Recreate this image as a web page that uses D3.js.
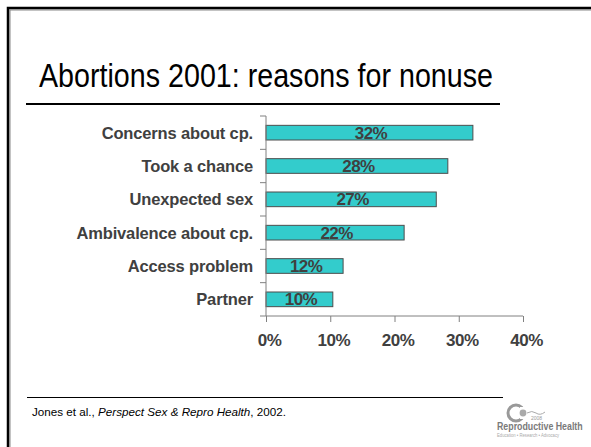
<!DOCTYPE html>
<html>
<head>
<meta charset="utf-8">
<script src="https://cdn.jsdelivr.net/npm/d3@7"></script>
<style>
  html, body { margin: 0; padding: 0; background: #fff; }
  svg { display: block; }
  text { font-family: "Liberation Sans", Arial, sans-serif; }
</style>
</head>
<body>
<svg id="chart" width="591" height="447"></svg>
<script>
// ---- data ----
const categories = ["Concerns about cp.", "Took a chance", "Unexpected sex",
                    "Ambivalence about cp.", "Access problem", "Partner"];
const values = [32.2, 28.3, 26.5, 21.5, 12.0, 10.4];
const valueLabels = ["32%", "28%", "27%", "22%", "12%", "10%"];
const xTicks = [0, 10, 20, 30, 40];
const titleText = "Abortions 2001: reasons for nonuse";

const svg = d3.select("#chart");
const textColor = "#404040";

// slide frame
svg.append("rect")
  .attr("x", 10).attr("y", 10).attr("width", 700).attr("height", 600)
  .attr("fill", "none").attr("stroke", "#888").attr("stroke-width", 1);
svg.append("rect")
  .attr("x", 8).attr("y", 8).attr("width", 700).attr("height", 600)
  .attr("fill", "none").attr("stroke", "#000").attr("stroke-width", 2.5);

// title
svg.append("text")
  .attr("x", 39).attr("y", 86.5)
  .attr("font-size", 33)
  .attr("fill", "#000")
  .attr("textLength", 454)
  .attr("lengthAdjust", "spacingAndGlyphs")
  .text(titleText);
svg.append("line")
  .attr("x1", 26).attr("x2", 500).attr("y1", 104).attr("y2", 104)
  .attr("stroke", "#000").attr("stroke-width", 2);

// scales
const x = d3.scaleLinear().domain([0, 40]).range([266, 523]);
const y = d3.scaleBand().domain(categories).range([116, 316])
  .paddingInner(0.56).paddingOuter(0.28);

// bars
const g = svg.append("g");
g.selectAll("rect.bar").data(values).join("rect")
  .attr("class", "bar")
  .attr("x", x(0))
  .attr("y", (d, i) => y(categories[i]))
  .attr("width", d => x(d) - x(0))
  .attr("height", y.bandwidth())
  .attr("fill", "#33CCCC")
  .attr("stroke", "#4d4d4d")
  .attr("stroke-width", 1);

// value labels
g.selectAll("text.val").data(values).join("text")
  .attr("class", "val")
  .attr("x", d => (x(0) + x(d)) / 2 + 1.5)
  .attr("y", (d, i) => y(categories[i]) + y.bandwidth() / 2)
  .attr("dy", "0.36em")
  .attr("text-anchor", "middle")
  .attr("font-size", 17).attr("font-weight", "bold")
  .attr("letter-spacing", -0.6)
  .attr("fill", textColor)
  .text((d, i) => valueLabels[i]);

// y axis: line + ticks at band boundaries
const axisColor = "#808080";
g.append("line")
  .attr("x1", x(0)).attr("x2", x(0)).attr("y1", 116).attr("y2", 316)
  .attr("stroke", axisColor).attr("stroke-width", 1);
const bounds = categories.map(c => y(c) - y.step() * y.paddingInner() / 2);
bounds.push(316);
g.selectAll("line.ytick").data(bounds).join("line")
  .attr("class", "ytick")
  .attr("x1", x(0) - 6).attr("x2", x(0))
  .attr("y1", d => d).attr("y2", d => d)
  .attr("stroke", axisColor).attr("stroke-width", 1);

// category labels
g.selectAll("text.cat").data(categories).join("text")
  .attr("class", "cat")
  .attr("x", 253)
  .attr("y", d => y(d) + y.bandwidth() / 2)
  .attr("dy", "0.36em")
  .attr("text-anchor", "end")
  .attr("font-size", 16.5).attr("font-weight", "bold")
  .attr("letter-spacing", -0.15)
  .attr("fill", textColor)
  .text(d => d);

// x axis
const xAxis = d3.axisBottom(x).tickValues(xTicks)
  .tickFormat(d => d + "%").tickSize(6).tickPadding(12);
const xg = svg.append("g").attr("transform", "translate(0,316)").call(xAxis);
xg.select(".domain").attr("stroke", axisColor).attr("d", `M${x(0)},0H${x(40)}`);
xg.selectAll(".tick line").attr("stroke", axisColor);
xg.selectAll(".tick text")
  .attr("font-family", "'Liberation Sans', Arial, sans-serif")
  .attr("font-size", 17).attr("font-weight", "bold")
  .attr("letter-spacing", -0.5)
  .attr("fill", textColor)
  .attr("dx", 3);

// footer
svg.append("line")
  .attr("x1", 27).attr("x2", 503).attr("y1", 397.5).attr("y2", 397.5)
  .attr("stroke", "#000").attr("stroke-width", 1);
const foot = svg.append("text")
  .attr("x", 32).attr("y", 416)
  .attr("font-size", 11.5).attr("fill", "#000")
  .attr("textLength", 254).attr("lengthAdjust", "spacingAndGlyphs");
foot.append("tspan").text("Jones et al., ");
foot.append("tspan").attr("font-style", "italic").text("Perspect Sex & Repro Health");
foot.append("tspan").text(", 2002.");

// logo
const logo = svg.append("g");
logo.append("circle").attr("cx", 516).attr("cy", 413).attr("r", 8)
  .attr("fill", "none").attr("stroke", "#999").attr("stroke-width", 3);
logo.append("rect").attr("x", 520).attr("y", 407).attr("width", 7).attr("height", 12)
  .attr("fill", "#fff");
logo.append("circle").attr("cx", 523).attr("cy", 413).attr("r", 3.4)
  .attr("fill", "#aaa");
logo.append("path").attr("d", "M527,413 q5,-3 9,0 q4,3 9,-1")
  .attr("fill", "none").attr("stroke", "#aaa").attr("stroke-width", 1);
logo.append("text").attr("x", 531).attr("y", 420)
  .attr("font-size", 5).attr("fill", "#999").text("2008");
logo.append("g").attr("transform", "translate(497,429.5) scale(0.84,1)")
  .append("text")
  .attr("font-size", 10.5).attr("font-weight", "bold").attr("fill", "#7a7a7a")
  .text("Reproductive Health");
logo.append("g").attr("transform", "translate(497,437) scale(0.84,1)")
  .append("text")
  .attr("font-size", 5).attr("fill", "#aaa")
  .text("Education • Research • Advocacy");
</script>
</body>
</html>
